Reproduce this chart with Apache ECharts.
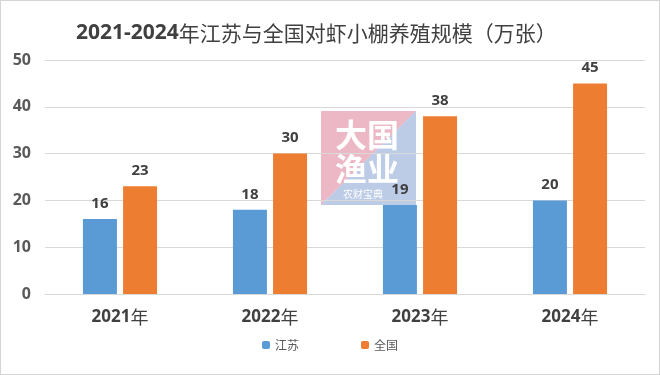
<!DOCTYPE html>
<html>
<head>
<meta charset="utf-8">
<script src="https://cdn.jsdelivr.net/npm/echarts@6/dist/echarts.min.js"></script>
<style>
html, body { margin: 0; padding: 0; background: #fff; }
#main { width: 660px; height: 375px; box-sizing: border-box; border: 1px solid #d4d4d4; }
</style>
</head>
<body>
<div id="main"></div>
<script>
// 数据
var years = ['2021年', '2022年', '2023年', '2024年'];
var jiangsu = [16, 18, 19, 20];
var quanguo = [23, 30, 38, 45];
var seriesNames = ['江苏', '全国'];

var chart = echarts.init(document.getElementById('main'));

var labelStyle = {
    show: true,
    position: 'top',
    distance: 8,
    color: '#404040',
    fontSize: 15,
    fontWeight: 'bold',
    fontFamily: 'Open Sans, Noto Sans CJK SC'
};

var option = {
    animation: false,
    title: {
        text: '{a|2021-2024}{b|年江苏与全国对虾小棚养殖规模（万张）}',
        left: 70,
        top: 17,
        textStyle: {
            rich: {
                a: { color: '#404040', fontSize: 21, fontWeight: 'bold', fontFamily: 'Open Sans' },
                b: { color: '#404040', fontSize: 21, fontWeight: 'normal', fontFamily: 'Noto Sans CJK SC' }
            }
        }
    },
    legend: {
        data: seriesNames,
        bottom: 18,
        left: 'center',
        itemWidth: 8,
        itemHeight: 8,
        itemGap: 62,
        textStyle: { color: '#595959', fontSize: 12, fontFamily: 'Noto Sans CJK SC' }
    },
    grid: {
        left: 44,
        right: 14,
        top: 59,
        bottom: 80,
        containLabel: false
    },
    xAxis: [{
        type: 'category',
        data: years,
        axisLine: { lineStyle: { color: '#d9d9d9' } },
        axisTick: { show: false },
        axisLabel: {
            margin: 14,
            formatter: function (v) {
                return '{a|' + v.replace('年', '') + '}{b|年}';
            },
            rich: {
                a: { color: '#404040', fontSize: 17, fontWeight: 'bold', fontFamily: 'Open Sans' },
                b: { color: '#404040', fontSize: 18, fontFamily: 'Noto Sans CJK SC' }
            }
        }
    }],
    yAxis: [{
        type: 'value',
        min: 0,
        max: 50,
        interval: 10,
        axisLine: { show: false },
        axisTick: { show: false },
        splitLine: { lineStyle: { color: '#d9d9d9' } },
        axisLabel: {
            color: '#595959',
            fontSize: 16,
            fontWeight: 'bold',
            margin: 14,
            fontFamily: 'Open Sans, Noto Sans CJK SC'
        }
    }],
    color: ['#5b9bd5', '#ed7d31'],
    series: [
        {
            name: seriesNames[0],
            type: 'bar',
            barWidth: 34,
            barGap: '18%',
            data: jiangsu,
            label: labelStyle
        },
        {
            name: seriesNames[1],
            type: 'bar',
            barWidth: 34,
            data: quanguo,
            label: labelStyle
        }
    ],
    // 水印
    graphic: [{
        type: 'group',
        left: 320,
        top: 110,
        z: 100,
        children: [
            { type: 'polygon', shape: { points: [[0, 0], [95, 0], [0, 94]] }, style: { fill: 'rgba(230,160,178,0.75)' } },
            { type: 'polygon', shape: { points: [[95, 0], [95, 94], [0, 94]] }, style: { fill: 'rgba(165,185,222,0.75)' } },
            { type: 'text', x: 14, y: 8, style: { text: '大国', fill: '#fff', fontSize: 32, fontWeight: 'bold', fontFamily: 'Noto Sans CJK SC' } },
            { type: 'text', x: 14, y: 42, style: { text: '渔业', fill: '#fff', fontSize: 32, fontWeight: 'bold', fontFamily: 'Noto Sans CJK SC' } },
            { type: 'text', x: 22, y: 78, style: { text: '农财宝典', fill: '#fff', fontSize: 10, fontFamily: 'Noto Sans CJK SC' } }
        ]
    }]
};

chart.setOption(option);
</script>
</body>
</html>
